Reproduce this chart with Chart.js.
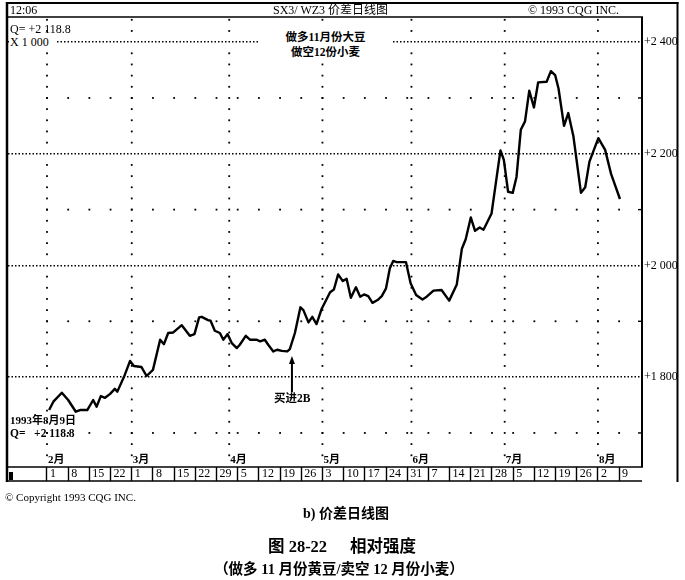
<!DOCTYPE html>
<html><head><meta charset="utf-8">
<script src="https://cdn.jsdelivr.net/npm/chart.js@4.4.1/dist/chart.umd.min.js"></script>
<style>
html,body{margin:0;padding:0;background:#fff;overflow:hidden;}
#wrap{position:relative;width:685px;height:580px;}
canvas{position:absolute;left:0;top:0;}
.t{position:absolute;white-space:nowrap;color:#000;font-family:"Liberation Serif","Noto Sans CJK SC",serif;}
.b{font-weight:bold;}
</style></head><body>
<div id="wrap">
<canvas id="c" width="685" height="580"></canvas>
<div class="t" style="left:10px;top:3px;font-size:12px;line-height:14px;">12:06</div>
<div class="t" style="left:273px;top:3px;font-size:12px;line-height:14px;">SX3/ WZ3 价差日线图</div>
<div class="t" style="left:528px;top:3px;font-size:12px;line-height:14px;">© 1993 CQG INC.</div>
<div class="t" style="left:10px;top:22px;font-size:12px;line-height:14px;">Q= +2 118.8</div>
<div class="t" style="left:9px;top:35px;font-size:12px;line-height:14px;background:#fff;padding:0 7px 0 1px;">X 1 000</div>
<div class="t b" style="left:258px;top:30px;width:135px;height:31px;background:#fff;text-align:center;font-size:11.5px;line-height:15px;">做多11月份大豆<br>做空12份小麦</div>
<div class="t b" style="left:274px;top:391px;font-size:11.5px;line-height:14px;">买进2B</div>
<div class="t b" style="left:10px;top:413px;font-size:11px;line-height:14px;">1993年8月9日</div>
<div class="t b" style="left:10px;top:426px;font-size:11.5px;line-height:14px;">Q=&nbsp;&nbsp;&nbsp;+2 118.8</div>
<div class="t" style="left:5px;top:490px;font-size:11px;line-height:14px;">© Copyright 1993 CQG INC.</div>
<div class="t b" style="left:246px;width:200px;text-align:center;top:505px;font-size:14px;line-height:18px;">b) 价差日线图</div>
<div class="t b" style="left:268px;top:537px;font-size:16.5px;line-height:20px;">图 28-22</div>
<div class="t b" style="left:350px;top:537px;font-size:16.5px;line-height:20px;">相对强度</div>
<div class="t b" style="left:139px;width:400px;text-align:center;top:560px;font-size:14.5px;line-height:18px;">（做多 11 月份黄豆/卖空 12 月份小麦）</div>
</div>
<script>
// ---- data (x = trading-day index from 1 Feb 1993, y = spread value) ----
const dayIndex = [0.5,1.5,3.5,5,6.8,7.8,9.5,10.9,11.7,12.7,13.7,14.9,16,16.6,18.2,19.6,20.5,22.3,23.5,25,26.7,27.6,28.6,29.8,31.8,33.7,34.8,35.9,36.5,38,38.6,39.6,40.8,41.6,42.6,43.6,44.8,45.5,46.9,47.9,49.5,50.3,51.4,52.2,53.4,54.3,55.4,56.7,57.3,58.5,59.8,60.5,61.7,62.6,63.6,64.8,66.8,67.7,68.7,69.8,70.7,71.7,72.9,73.9,74.8,75.8,76.8,78,79,80,80.9,81.7,82.5,84.7,85.8,87.1,88.6,89.6,91.2,93.1,94.9,96.7,97.9,98.8,100,101,102.1,103,104.9,105.9,107,107.8,108.8,109.9,110.8,111.8,112.8,113.8,114.9,115.9,117.9,118.9,119.9,120.7,122,123,124.2,126,127,128,130.1,131.7,133.1,135.2];
const spread = [1741,1756,1772,1759,1738,1741,1741,1759,1747,1766,1763,1770,1779,1774,1801,1829,1820,1818,1802,1813,1867,1859,1879,1880,1893,1874,1877,1907,1908,1902,1901,1883,1879,1867,1877,1861,1852,1858,1874,1867,1867,1864,1867,1858,1846,1849,1847,1846,1850,1879,1925,1920,1898,1908,1895,1922,1952,1957,1984,1972,1976,1942,1961,1944,1948,1945,1933,1938,1945,1959,1995,2008,2006,2006,1968,1947,1939,1944,1955,1956,1937,1966,2030,2047,2086,2062,2068,2064,2093,2147,2206,2189,2132,2130,2159,2243,2258,2313,2283,2328,2329,2348,2341,2317,2250,2273,2232,2130,2140,2186,2228,2207,2164,2119];
const weekLabels = ["1","8","15","22","1","8","15","22","29","5","12","19","26","3","10","17","24","31","7","14","21","28","5","12","19","26","2","9"];
const monthLabels = ["2月","3月","4月","5月","6月","7月","8月"];
const monthStarts = [0,20,43,65,86,108,130];
const yTickValues = [1800,2000,2200,2400];
const yTickLabels = ["+1 800","+2 000","+2 200","+2 400"];
const minorLevels = [1700,1900,2100,2300];
const arrowDay = 57.8, arrowTip = 1838, arrowTail = 1773;

const X_MIN = -9.2, X_MAX = 140.4, Y_MIN = 1639, Y_MAX = 2445;
const SERIF = '"Liberation Serif","Noto Sans CJK SC",serif';

function line(ctx, x1, y1, x2, y2, w) {
  ctx.lineWidth = w; ctx.beginPath(); ctx.moveTo(x1, y1); ctx.lineTo(x2, y2); ctx.stroke();
}

const decor = {
  id: 'decor',
  beforeDatasetsDraw(chart) {
    const {ctx, chartArea: a, scales: {x, y}} = chart;
    ctx.save();
    ctx.fillStyle = '#000';
    minorLevels.forEach(v => {
      const py = y.getPixelForValue(v);
      weekLabels.forEach((_, k) => {
        const px = x.getPixelForValue(k * 5);
        ctx.fillRect(px - 0.9, py - 0.9, 1.8, 1.8);
      });
      ctx.fillRect(a.right - 4, py - 0.7, 5, 1.4);
    });
    monthStarts.forEach(t => {
      const px = x.getPixelForValue(t);
      for (let v = 1660; v <= 2440; v += 20) {
        if (v % 200 === 0) continue;
        const py = y.getPixelForValue(v);
        ctx.fillRect(px - 0.9, py - 0.9, 1.8, 1.8);
      }
    });
    ctx.restore();
  },
  afterDraw(chart) {
    const {ctx, chartArea: a, scales: {x, y}} = chart;
    ctx.save();
    ctx.strokeStyle = '#000'; ctx.fillStyle = '#000';
    line(ctx, 7, 2, 7, 482, 2.5);
    line(ctx, 6, 3, 678.5, 3, 2);
    line(ctx, 677.5, 2, 677.5, 482, 2);
    line(ctx, 6, a.top, a.right + 1, a.top, 1.5);
    line(ctx, a.right, a.top, a.right, a.bottom, 2);
    line(ctx, 6, a.bottom, a.right + 1, a.bottom, 1.6);
    line(ctx, 6, 481, a.right, 481, 1.6);
    ctx.fillRect(9, 472, 4, 8);
    ctx.font = 'bold 11px ' + SERIF;
    ctx.textBaseline = 'middle'; ctx.textAlign = 'left';
    monthLabels.forEach((m, i) => {
      ctx.fillText(m, x.getPixelForValue(monthStarts[i]) + 1, 460);
    });
    const ax = x.getPixelForValue(arrowDay);
    const tipY = y.getPixelForValue(arrowTip), tailY = y.getPixelForValue(arrowTail);
    line(ctx, ax, tailY, ax, tipY + 6, 2);
    ctx.beginPath(); ctx.moveTo(ax, tipY); ctx.lineTo(ax - 3, tipY + 8); ctx.lineTo(ax + 3, tipY + 8); ctx.closePath(); ctx.fill();
    ctx.restore();
  }
};

new Chart(document.getElementById('c'), {
  type: 'line',
  data: {
    datasets: [{
      data: dayIndex.map((t, i) => ({x: t, y: spread[i]})),
      borderColor: '#000', borderWidth: 2.4, pointRadius: 0, tension: 0,
      fill: false, borderJoinStyle: 'round'
    }]
  },
  options: {
    responsive: false, animation: false, devicePixelRatio: 1,
    layout: {padding: {left: 8, top: 17, right: 7, bottom: 99}},
    plugins: {legend: {display: false}, tooltip: {enabled: false}},
    scales: {
      x: {
        type: 'linear', position: 'bottom', min: X_MIN, max: X_MAX,
        afterBuildTicks: s => { s.ticks = weekLabels.map((_, k) => ({value: k * 5})); },
        afterFit: s => { s.height = 14; },
        ticks: {
          autoSkip: false, maxRotation: 0, minRotation: 0, align: 'start', labelOffset: 3,
          padding: -14, color: '#000', font: {family: SERIF, size: 12},
          callback: (v, i) => weekLabels[i]
        },
        grid: {display: true, drawOnChartArea: false, drawTicks: true, tickLength: 14, tickColor: '#000', tickWidth: 1.4},
        border: {display: false}
      },
      y: {
        type: 'linear', position: 'right', min: Y_MIN, max: Y_MAX,
        afterBuildTicks: s => { s.ticks = yTickValues.map(v => ({value: v})); },
        afterFit: s => { s.width = 36; },
        ticks: {
          padding: 2, color: '#000', font: {family: SERIF, size: 12},
          callback: (v, i) => yTickLabels[i]
        },
        grid: {display: true, drawTicks: false, color: '#000', lineWidth: 1.5},
        border: {display: false, dash: [1.5, 2.0]}
      }
    }
  },
  plugins: [decor]
});
</script>
</body></html>
